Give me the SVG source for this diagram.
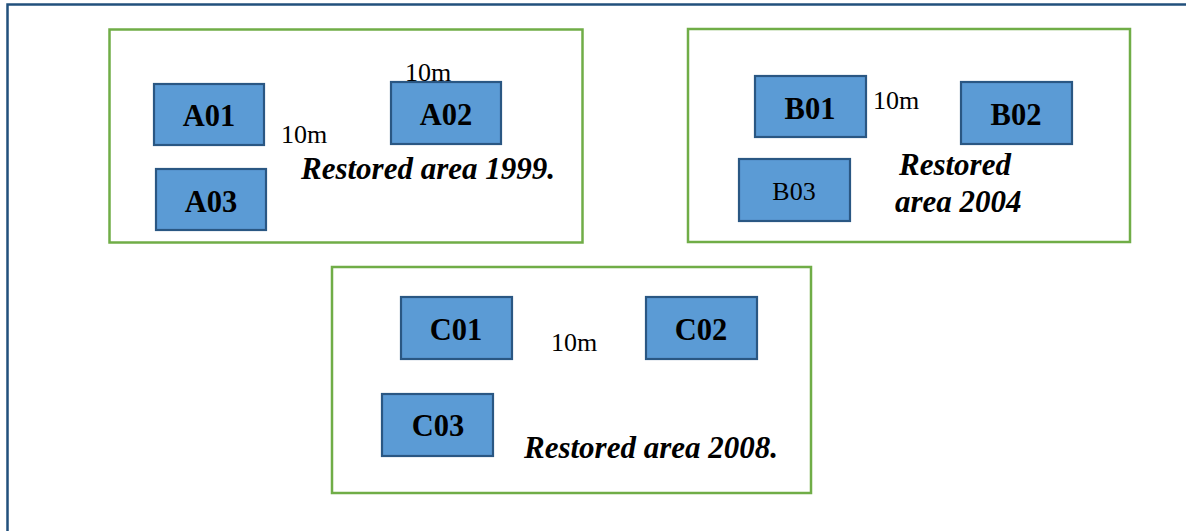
<svg xmlns="http://www.w3.org/2000/svg" width="1186" height="531" viewBox="0 0 1186 531">
  <style>
    .frame { fill: none; stroke: #22507C; stroke-width: 2.5; }
    .area { fill: #FFFFFF; stroke: #70AD47; stroke-width: 2.5; }
    .plot { fill: #5B9BD5; stroke: #2A5783; stroke-width: 2.2; }
    .lbl { font-family: "Liberation Serif", "Times New Roman", serif; font-weight: bold; font-size: 30.5px; fill: #000; text-anchor: middle; }
    .lbl-reg { font-family: "Liberation Serif", "Times New Roman", serif; font-size: 26px; fill: #000; text-anchor: middle; }
    .dist { font-family: "Liberation Serif", "Times New Roman", serif; font-size: 26px; fill: #000; }
    .title { font-family: "Liberation Serif", "Times New Roman", serif; font-weight: bold; font-style: italic; font-size: 31px; fill: #000; }
  </style>
  <rect x="0" y="0" width="1186" height="531" fill="#FFFFFF"/>

  <!-- outer page frame -->
  <rect class="frame" x="7.5" y="4.5" width="1200" height="560"/>

  <!-- area restored 1999 -->
  <g id="area-1999">
    <rect class="area" x="109.5" y="29.5" width="473" height="213"/>
    <text class="title" x="301" y="179">Restored area 1999.</text>
  </g>
  <g id="A01">
    <rect class="plot" x="154" y="84" width="110" height="61"/>
    <text class="lbl" x="209" y="126">A01</text>
  </g>
  <g id="A02">
    <rect class="plot" x="391" y="82" width="110" height="62"/>
    <text class="lbl" x="446" y="125">A02</text>
  </g>
  <g id="A03">
    <rect class="plot" x="156" y="169" width="110" height="61"/>
    <text class="lbl" x="211" y="212">A03</text>
  </g>
  <text class="dist" x="405" y="81">10m</text>
  <text class="dist" x="281" y="143">10m</text>

  <!-- area restored 2004 -->
  <g id="area-2004">
    <rect class="area" x="688" y="29" width="442" height="213"/>
    <text class="title" x="899" y="175">Restored</text>
    <text class="title" x="895" y="212">area 2004</text>
  </g>
  <g id="B01">
    <rect class="plot" x="755" y="76" width="111" height="61"/>
    <text class="lbl" x="810" y="119">B01</text>
  </g>
  <g id="B02">
    <rect class="plot" x="961" y="82" width="111" height="62"/>
    <text class="lbl" x="1016" y="125">B02</text>
  </g>
  <g id="B03">
    <rect class="plot" x="739" y="159" width="111" height="62"/>
    <text class="lbl-reg" x="794" y="200">B03</text>
  </g>
  <text class="dist" x="873" y="109">10m</text>

  <!-- area restored 2008 -->
  <g id="area-2008">
    <rect class="area" x="332" y="267" width="479" height="226"/>
    <text class="title" x="524" y="458">Restored area 2008.</text>
  </g>
  <g id="C01">
    <rect class="plot" x="401" y="297" width="111" height="62"/>
    <text class="lbl" x="456" y="340">C01</text>
  </g>
  <g id="C02">
    <rect class="plot" x="646" y="297" width="111" height="62"/>
    <text class="lbl" x="701" y="340">C02</text>
  </g>
  <g id="C03">
    <rect class="plot" x="382" y="394" width="111" height="62"/>
    <text class="lbl" x="438" y="436">C03</text>
  </g>
  <text class="dist" x="551" y="351">10m</text>

  <!-- no connectors between plots -->
  <g id="connectors"/>
</svg>
